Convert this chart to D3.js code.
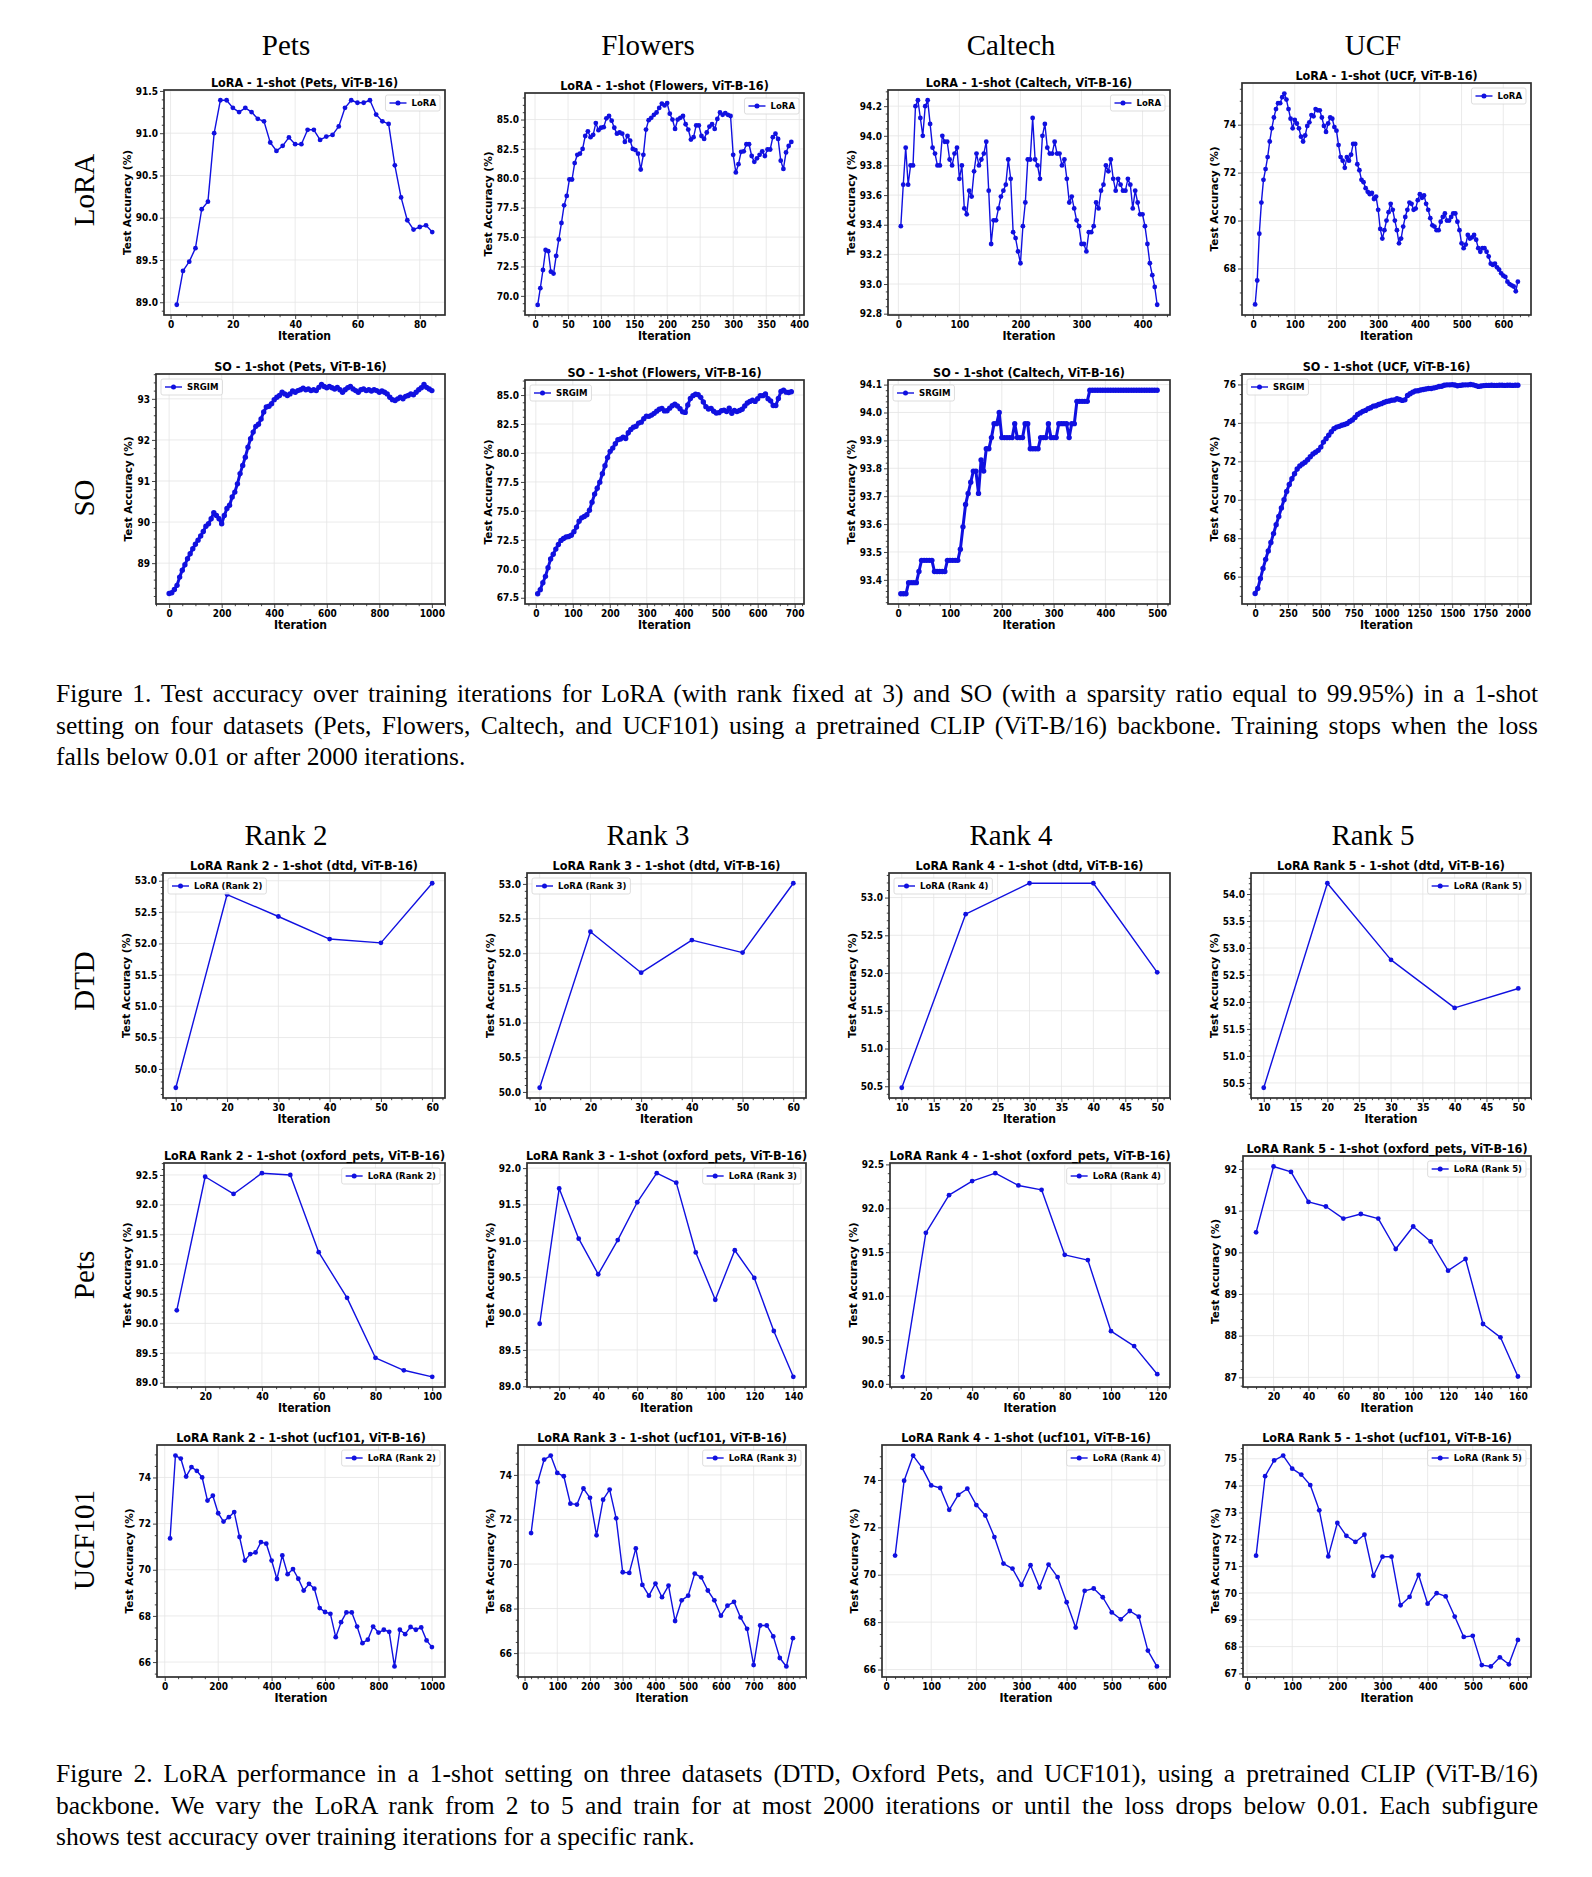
<!DOCTYPE html>
<html>
<head>
<meta charset="utf-8">
<script src="https://cdn.jsdelivr.net/npm/d3@7/dist/d3.min.js"></script>
<style>
  body { margin: 0; background: #fff; }
</style>
</head>
<body>
<svg id="fig" width="1592" height="1877"></svg>
<script>
// ---------- Figure 1 data (LoRA row) ----------
const petsLoraIter = d3.range(2, 85, 2);
const petsLoraAcc = [
    88.97, 89.37, 89.48, 89.64, 90.10, 90.19, 91.00, 91.39, 91.39, 91.30,
    91.25, 91.30, 91.25, 91.17, 91.14, 90.89, 90.79, 90.85, 90.95, 90.87,
    90.87, 91.04, 91.04, 90.92, 90.96, 90.98, 91.08, 91.30, 91.39, 91.36,
    91.36, 91.39, 91.22, 91.14, 91.11, 90.62, 90.24, 89.97, 89.86, 89.89,
    89.91, 89.83];

const flowersLoraIter = d3.range(4, 389, 4);
const flowersLoraAcc = [
    69.23, 70.65, 72.2, 73.9, 73.8, 72.06, 71.9, 73.4, 74.8, 76.2,
    77.7, 78.5, 79.9, 79.9, 81.3, 82.0, 82.1, 82.5, 83.6, 84.0,
    83.5, 83.7, 84.7, 84.1, 84.3, 84.35, 85.1, 85.3, 84.9, 84.3,
    83.8, 83.9, 83.8, 83.1, 83.6, 83.2, 82.5, 82.4, 82.1, 80.75,
    82.0, 84.15, 84.95, 85.15, 85.4, 85.6, 85.99, 86.36, 86.2, 86.4,
    85.5, 85.0, 84.2, 85.0, 85.15, 85.3, 84.6, 84.15, 83.3, 83.5,
    84.5, 84.5, 83.6, 83.35, 83.9, 84.4, 84.6, 84.2, 85.05, 85.6,
    85.4, 85.55, 85.4, 85.3, 82.0, 80.5, 81.2, 82.25, 82.3, 82.9,
    82.9, 81.9, 81.4, 81.7, 82.0, 82.3, 81.9, 82.45, 82.45, 83.5,
    83.8, 83.35, 81.5, 80.8, 82.2, 82.75, 83.1];

const caltechLoraIter = d3.range(4, 425, 4);
const caltechLoraAcc = [
    93.39, 93.67, 93.92, 93.67, 93.80, 93.80, 94.20, 94.24, 94.12, 94.00,
    94.20, 94.24, 94.08, 93.92, 93.88, 93.80, 93.80, 94.00, 93.96, 93.96,
    93.84, 93.80, 93.88, 93.92, 93.71, 93.80, 93.51, 93.47, 93.63, 93.59,
    93.76, 93.88, 93.80, 93.84, 93.88, 93.96, 93.63, 93.27, 93.43, 93.43,
    93.51, 93.59, 93.63, 93.67, 93.84, 93.71, 93.35, 93.31, 93.22, 93.14,
    93.39, 93.55, 93.84, 93.84, 94.12, 93.84, 93.80, 93.71, 94.00, 94.08,
    93.92, 93.88, 93.88, 93.96, 93.88, 93.88, 93.80, 93.84, 93.71, 93.55,
    93.59, 93.51, 93.43, 93.39, 93.27, 93.27, 93.22, 93.35, 93.35, 93.39,
    93.55, 93.51, 93.63, 93.67, 93.80, 93.76, 93.84, 93.71, 93.63, 93.71,
    93.67, 93.63, 93.63, 93.71, 93.67, 93.51, 93.63, 93.55, 93.47, 93.47,
    93.39, 93.27, 93.14, 93.06, 92.98, 92.86];

const ucfLoraIter = d3.range(5, 636, 5);
const ucfLoraAcc = [
    66.5, 67.5, 69.45, 70.75, 71.7, 72.15, 72.65, 73.3, 73.85, 74.3,
    74.65, 74.9, 74.9, 75.15, 75.3, 75.05, 74.65, 74.25, 73.85, 74.2,
    74.05, 73.85, 73.5, 73.3, 73.55, 73.95, 74.1, 74.4, 74.35, 74.65,
    74.6, 74.6, 74.3, 73.95, 73.7, 74.05, 74.3, 74.25, 73.9, 73.75,
    73.15, 72.65, 72.5, 72.2, 72.65, 72.5, 72.75, 73.2, 73.2, 72.35,
    72.1, 71.7, 71.6, 71.35, 71.2, 71.1, 71.15, 70.9, 71.0, 70.45,
    69.65, 69.25, 69.6, 70.0, 70.35, 70.7, 70.45, 70.0, 69.6, 69.05,
    69.25, 69.75, 70.15, 70.45, 70.75, 70.7, 70.45, 70.5, 70.85, 71.1,
    70.95, 71.05, 70.7, 70.45, 70.1, 69.8, 69.75, 69.6, 69.6, 69.95,
    70.15, 70.3, 70.0, 70.0, 70.15, 70.3, 70.3, 69.95, 69.6, 69.05,
    68.85, 69.0, 69.4, 69.25, 69.3, 69.4, 69.2, 68.85, 68.7, 68.85,
    68.85, 68.7, 68.5, 68.2, 68.15, 68.2, 68.05, 67.95, 67.8, 67.7,
    67.65, 67.45, 67.35, 67.3, 67.25, 67.05, 67.45];

// ---------- Figure 1 data (SO row) ----------
const soPetsIter = d3.range(0, 1001, 10);
const soPetsAcc = [
    88.26, 88.28, 88.36, 88.46, 88.66, 88.83, 88.96, 89.11, 89.23, 89.35,
    89.46, 89.56, 89.66, 89.77, 89.90, 89.96, 90.08, 90.23, 90.16, 90.08,
    89.96, 90.16, 90.33, 90.41, 90.61, 90.73, 90.93, 91.18, 91.38, 91.58,
    91.82, 92.03, 92.19, 92.33, 92.38, 92.51, 92.68, 92.80, 92.82, 92.88,
    92.98, 93.04, 93.08, 93.16, 93.12, 93.08, 93.12, 93.19, 93.16, 93.20,
    93.22, 93.26, 93.22, 93.24, 93.20, 93.22, 93.20, 93.28, 93.35, 93.30,
    93.27, 93.30, 93.27, 93.24, 93.28, 93.22, 93.16, 93.22, 93.27, 93.30,
    93.24, 93.20, 93.16, 93.22, 93.24, 93.20, 93.22, 93.19, 93.22, 93.20,
    93.16, 93.19, 93.16, 93.12, 93.04, 92.98, 92.96, 93.00, 93.04, 93.00,
    93.06, 93.08, 93.12, 93.10, 93.16, 93.22, 93.27, 93.35, 93.28, 93.24,
    93.20];

const soFlowersIter = d3.range(5, 692, 7);
const soFlowersAcc = [
    67.84, 68.2, 68.8, 69.35, 70.1, 70.84, 71.25, 71.7, 72.1, 72.45,
    72.62, 72.75, 72.79, 72.9, 73.2, 73.6, 74.1, 74.4, 74.52, 74.67,
    75.05, 75.75, 76.45, 76.95, 77.48, 78.2, 78.9, 79.6, 80.14, 80.42,
    80.80, 81.14, 81.20, 81.37, 81.25, 81.75, 82.03, 82.23, 82.3, 82.58,
    82.66, 82.95, 83.18, 83.16, 83.27, 83.42, 83.61, 83.78, 83.85, 83.63,
    83.64, 83.87, 84.07, 84.22, 84.05, 83.82, 83.55, 83.5, 84.15, 84.7,
    84.95, 85.07, 85.02, 84.8, 84.4, 84.0, 83.8, 83.85, 83.6, 83.45,
    83.48, 83.64, 83.7, 83.57, 83.86, 83.43, 83.66, 83.57, 83.66, 83.77,
    84.05, 84.31, 84.45, 84.55, 84.45, 84.68, 84.95, 84.95, 85.1, 84.68,
    84.5, 84.1, 84.1, 84.7, 85.3, 85.42, 85.25, 85.22, 85.28];

const soCaltechIter = d3.range(5, 501, 5);
const soCaltechAcc = [
    93.35, 93.35, 93.35, 93.39, 93.39, 93.39, 93.39, 93.43, 93.47, 93.47,
    93.47, 93.47, 93.47, 93.43, 93.43, 93.43, 93.43, 93.43, 93.47, 93.47,
    93.47, 93.47, 93.47, 93.51, 93.59, 93.67, 93.71, 93.75, 93.79, 93.79,
    93.71, 93.83, 93.79, 93.87, 93.87, 93.91, 93.96, 93.96, 94.00, 93.91,
    93.91, 93.91, 93.91, 93.91, 93.96, 93.91, 93.91, 93.91, 93.96, 93.96,
    93.87, 93.87, 93.87, 93.87, 93.91, 93.91, 93.91, 93.96, 93.91, 93.91,
    93.91, 93.96, 93.96, 93.96, 93.96, 93.91, 93.96, 93.96, 94.04, 94.04,
    94.04, 94.04, 94.04, 94.08, 94.08, 94.08, 94.08, 94.08, 94.08, 94.08,
    94.08, 94.08, 94.08, 94.08, 94.08, 94.08, 94.08, 94.08, 94.08, 94.08,
    94.08, 94.08, 94.08, 94.08, 94.08, 94.08, 94.08, 94.08, 94.08, 94.08];

const soUcfIter = d3.range(0, 2001, 20);
const soUcfAcc = [
    65.12, 65.38, 65.9, 66.42, 66.9, 67.34, 67.78, 68.24, 68.7, 69.13,
    69.57, 70.0, 70.43, 70.8, 71.09, 71.35, 71.6, 71.76, 71.86, 71.95,
    72.08, 72.24, 72.38, 72.47, 72.57, 72.74, 73.0, 73.18, 73.36, 73.54,
    73.7, 73.78, 73.82, 73.88, 73.92, 73.97, 74.07, 74.15, 74.28, 74.44,
    74.52, 74.6, 74.65, 74.74, 74.79, 74.87, 74.89, 74.96, 75.0, 75.06,
    75.11, 75.14, 75.18, 75.19, 75.26, 75.22, 75.17, 75.2, 75.43, 75.52,
    75.6, 75.66, 75.67, 75.71, 75.74, 75.76, 75.79, 75.79, 75.82, 75.85,
    75.89, 75.91, 75.96, 75.98, 75.98, 75.99, 75.97, 75.93, 75.95, 75.97,
    75.98, 75.98, 76.0, 75.98, 75.94, 75.9, 75.92, 75.94, 75.95, 75.95,
    75.96, 75.95, 75.95, 75.96, 75.96, 75.95, 75.96, 75.96, 75.95, 75.96,
    75.96];

// ---------- Figure 2 data ----------
const dtdIter6 = [10, 20, 30, 40, 50, 60];
const dtdIter5 = [10, 20, 30, 40, 50];
const dtdR2 = [49.70, 52.78, 52.43, 52.07, 52.01, 52.96];
const dtdR3 = [50.06, 52.31, 51.72, 52.19, 52.01, 53.01];
const dtdR4 = [50.48, 52.78, 53.19, 53.19, 52.01];
const dtdR5 = [50.41, 54.20, 52.78, 51.89, 52.25];

const petsR2Iter = [10, 20, 30, 40, 50, 60, 70, 80, 90, 100];
const petsR2 = [90.22, 92.47, 92.18, 92.53, 92.50, 91.20, 90.43, 89.42, 89.21, 89.10];
const petsR3Iter = [10, 20, 30, 40, 50, 60, 70, 80, 90, 100, 110, 120, 130, 140];
const petsR3 = [89.86, 91.72, 91.03, 90.54, 91.01, 91.53, 91.93, 91.80, 90.84, 90.19, 90.87, 90.49, 89.76, 89.13];
const petsR4Iter = [10, 20, 30, 40, 50, 60, 70, 80, 90, 100, 110, 120];
const petsR4 = [90.08, 91.72, 92.15, 92.31, 92.40, 92.26, 92.21, 91.47, 91.41, 90.60, 90.43, 90.11];
const petsR5Iter = [10, 20, 30, 40, 50, 60, 70, 80, 90, 100, 110, 120, 130, 140, 150, 160];
const petsR5 = [90.48, 92.06, 91.93, 91.21, 91.10, 90.81, 90.92, 90.81, 90.08, 90.62, 90.26, 89.56, 89.84, 88.28, 87.96, 87.02];

const ucfR2Iter = d3.range(20, 1001, 20);
const ucfR2 = [
    71.36, 74.95, 74.82, 74.04, 74.45, 74.29, 74.00, 73.00, 73.21, 72.45,
    72.09, 72.28, 72.50, 71.42, 70.40, 70.68, 70.75, 71.20, 71.13, 70.40,
    69.60, 70.62, 69.81, 70.03, 69.61, 69.10, 69.39, 69.18, 68.34, 68.17,
    68.09, 67.08, 67.73, 68.15, 68.15, 67.54, 66.82, 66.97, 67.54, 67.28,
    67.40, 67.31, 65.81, 67.40, 67.21, 67.52, 67.40, 67.50, 66.94, 66.65];
const ucfR3Iter = d3.range(20, 821, 20);
const ucfR3 = [
    71.39, 73.67, 74.69, 74.87, 74.09, 73.94, 72.71, 72.67, 73.39, 72.97,
    71.29, 72.89, 73.34, 72.05, 69.63, 69.60, 70.70, 69.06, 68.58, 69.12,
    68.51, 69.03, 67.44, 68.37, 68.58, 69.57, 69.40, 68.81, 68.37, 67.68,
    68.13, 68.30, 67.60, 67.09, 65.46, 67.24, 67.24, 66.75, 65.78, 65.40,
    66.67];
const ucfR45Iter = d3.range(20, 601, 20);
const ucfR4 = [
    70.81, 73.97, 75.03, 74.51, 73.77, 73.66, 72.74, 73.37, 73.63, 72.94,
    72.50, 71.59, 70.47, 70.26, 69.57, 70.40, 69.46, 70.43, 69.90, 68.84,
    67.77, 69.32, 69.42, 69.05, 68.41, 68.12, 68.47, 68.23, 66.80, 66.13];
const ucfR5 = [
    71.39, 74.35, 74.94, 75.12, 74.63, 74.41, 74.02, 73.08, 71.36, 72.61,
    72.13, 71.90, 72.17, 70.64, 71.35, 71.35, 69.54, 69.85, 70.67, 69.60,
    69.99, 69.87, 69.12, 68.36, 68.40, 67.31, 67.26, 67.60, 67.34, 68.25];

// ---------- tick values ----------
const xt0_80 = [0, 20, 40, 60, 80];
const xt0_400by50 = [0, 50, 100, 150, 200, 250, 300, 350, 400];
const xt0_400 = [0, 100, 200, 300, 400];
const xt0_600 = [0, 100, 200, 300, 400, 500, 600];
const xt0_1000 = [0, 200, 400, 600, 800, 1000];
const xt0_700 = [0, 100, 200, 300, 400, 500, 600, 700];
const xt0_500 = [0, 100, 200, 300, 400, 500];
const xt0_2000 = [0, 250, 500, 750, 1000, 1250, 1500, 1750, 2000];
const xt10_60 = [10, 20, 30, 40, 50, 60];
const xt10_50 = [10, 15, 20, 25, 30, 35, 40, 45, 50];
const xt20_100 = [20, 40, 60, 80, 100];
const xt20_140 = [20, 40, 60, 80, 100, 120, 140];
const xt20_120 = [20, 40, 60, 80, 100, 120];
const xt20_160 = [20, 40, 60, 80, 100, 120, 140, 160];
const xt0_800 = [0, 100, 200, 300, 400, 500, 600, 700, 800];

const yPetsLora = [89.0, 89.5, 90.0, 90.5, 91.0, 91.5];
const yFlowers = [67.5, 70.0, 72.5, 75.0, 77.5, 80.0, 82.5, 85.0];
const yCaltechLora = [92.8, 93.0, 93.2, 93.4, 93.6, 93.8, 94.0, 94.2];
const yUcfEven = [64, 66, 68, 70, 72, 74, 76];
const ySoPets = [88, 89, 90, 91, 92, 93];
const ySoCaltech = [93.3, 93.4, 93.5, 93.6, 93.7, 93.8, 93.9, 94.0, 94.1];
const yHalf = [49.5, 50.0, 50.5, 51.0, 51.5, 52.0, 52.5, 53.0, 53.5, 54.0];
const yPetsHalf = [89.0, 89.5, 90.0, 90.5, 91.0, 91.5, 92.0, 92.5];
const yPetsInt = [87, 88, 89, 90, 91, 92];
const yUcfInt = [67, 68, 69, 70, 71, 72, 73, 74, 75];

// ---------- text ----------
const fig1Cols = ['Pets', 'Flowers', 'Caltech', 'UCF'];
const fig1Rows = ['LoRA', 'SO'];
const fig2Cols = ['Rank 2', 'Rank 3', 'Rank 4', 'Rank 5'];
const fig2Rows = ['DTD', 'Pets', 'UCF101'];
const caption1 = [
    'Figure 1. Test accuracy over training iterations for LoRA (with rank fixed at 3) and SO (with a sparsity ratio equal to 99.95%) in a 1-shot',
    'setting on four datasets (Pets, Flowers, Caltech, and UCF101) using a pretrained CLIP (ViT-B/16) backbone. Training stops when the loss',
    'falls below 0.01 or after 2000 iterations.'];
const caption2 = [
    'Figure 2. LoRA performance in a 1-shot setting on three datasets (DTD, Oxford Pets, and UCF101), using a pretrained CLIP (ViT-B/16)',
    'backbone. We vary the LoRA rank from 2 to 5 and train for at most 2000 iterations or until the loss drops below 0.01. Each subfigure',
    'shows test accuracy over training iterations for a specific rank.'];

// ---------- panels ----------
const panels = [
    {title: 'LoRA - 1-shot (Pets, ViT-B-16)', it: petsLoraIter, acc: petsLoraAcc, box: [164, 90, 445, 315], xt: xt0_80, yt: yPetsLora, yf: '.1f', leg: 'LoRA', loc: 'ur'},
    {title: 'LoRA - 1-shot (Flowers, ViT-B-16)', it: flowersLoraIter, acc: flowersLoraAcc, box: [525, 93, 804, 315], xt: xt0_400by50, yt: yFlowers, yf: '.1f', leg: 'LoRA', loc: 'ur'},
    {title: 'LoRA - 1-shot (Caltech, ViT-B-16)', it: caltechLoraIter, acc: caltechLoraAcc, box: [888, 90, 1170, 315], xt: xt0_400, yt: yCaltechLora, yf: '.1f', leg: 'LoRA', loc: 'ur'},
    {title: 'LoRA - 1-shot (UCF, ViT-B-16)', it: ucfLoraIter, acc: ucfLoraAcc, box: [1242, 83, 1531, 315], xt: xt0_600, yt: yUcfEven, yf: 'd', leg: 'LoRA', loc: 'ur'},
    {title: 'SO - 1-shot (Pets, ViT-B-16)', it: soPetsIter, acc: soPetsAcc, box: [156, 374, 445, 604], xt: xt0_1000, yt: ySoPets, yf: 'd', leg: 'SRGIM', loc: 'ul', dense: true},
    {title: 'SO - 1-shot (Flowers, ViT-B-16)', it: soFlowersIter, acc: soFlowersAcc, box: [525, 380, 804, 604], xt: xt0_700, yt: yFlowers, yf: '.1f', leg: 'SRGIM', loc: 'ul', dense: true},
    {title: 'SO - 1-shot (Caltech, ViT-B-16)', it: soCaltechIter, acc: soCaltechAcc, box: [888, 380, 1170, 604], xt: xt0_500, yt: ySoCaltech, yf: '.1f', leg: 'SRGIM', loc: 'ul', dense: true},
    {title: 'SO - 1-shot (UCF, ViT-B-16)', it: soUcfIter, acc: soUcfAcc, box: [1242, 374, 1531, 604], xt: xt0_2000, yt: yUcfEven, yf: 'd', leg: 'SRGIM', loc: 'ul', dense: true},

    {title: 'LoRA Rank 2 - 1-shot (dtd, ViT-B-16)', it: dtdIter6, acc: dtdR2, box: [163, 873, 445, 1098], xt: xt10_60, yt: yHalf, yf: '.1f', leg: 'LoRA (Rank 2)', loc: 'ul'},
    {title: 'LoRA Rank 3 - 1-shot (dtd, ViT-B-16)', it: dtdIter6, acc: dtdR3, box: [527, 873, 806, 1098], xt: xt10_60, yt: yHalf, yf: '.1f', leg: 'LoRA (Rank 3)', loc: 'ul'},
    {title: 'LoRA Rank 4 - 1-shot (dtd, ViT-B-16)', it: dtdIter5, acc: dtdR4, box: [889, 873, 1170, 1098], xt: xt10_50, yt: yHalf, yf: '.1f', leg: 'LoRA (Rank 4)', loc: 'ul'},
    {title: 'LoRA Rank 5 - 1-shot (dtd, ViT-B-16)', it: dtdIter5, acc: dtdR5, box: [1251, 873, 1531, 1098], xt: xt10_50, yt: yHalf, yf: '.1f', leg: 'LoRA (Rank 5)', loc: 'ur'},

    {title: 'LoRA Rank 2 - 1-shot (oxford_pets, ViT-B-16)', it: petsR2Iter, acc: petsR2, box: [164, 1163, 445, 1387], xt: xt20_100, yt: yPetsHalf, yf: '.1f', leg: 'LoRA (Rank 2)', loc: 'ur'},
    {title: 'LoRA Rank 3 - 1-shot (oxford_pets, ViT-B-16)', it: petsR3Iter, acc: petsR3, box: [527, 1163, 806, 1387], xt: xt20_140, yt: yPetsHalf, yf: '.1f', leg: 'LoRA (Rank 3)', loc: 'ur'},
    {title: 'LoRA Rank 4 - 1-shot (oxford_pets, ViT-B-16)', it: petsR4Iter, acc: petsR4, box: [890, 1163, 1170, 1387], xt: xt20_120, yt: yPetsHalf, yf: '.1f', leg: 'LoRA (Rank 4)', loc: 'ur'},
    {title: 'LoRA Rank 5 - 1-shot (oxford_pets, ViT-B-16)', it: petsR5Iter, acc: petsR5, box: [1243, 1156, 1531, 1387], xt: xt20_160, yt: yPetsInt, yf: 'd', leg: 'LoRA (Rank 5)', loc: 'ur'},

    {title: 'LoRA Rank 2 - 1-shot (ucf101, ViT-B-16)', it: ucfR2Iter, acc: ucfR2, box: [157, 1445, 445, 1677], xt: xt0_1000, yt: yUcfEven, yf: 'd', leg: 'LoRA (Rank 2)', loc: 'ur'},
    {title: 'LoRA Rank 3 - 1-shot (ucf101, ViT-B-16)', it: ucfR3Iter, acc: ucfR3, box: [518, 1445, 806, 1677], xt: xt0_800, yt: yUcfEven, yf: 'd', leg: 'LoRA (Rank 3)', loc: 'ur'},
    {title: 'LoRA Rank 4 - 1-shot (ucf101, ViT-B-16)', it: ucfR45Iter, acc: ucfR4, box: [882, 1445, 1170, 1677], xt: xt0_600, yt: yUcfEven, yf: 'd', leg: 'LoRA (Rank 4)', loc: 'ur'},
    {title: 'LoRA Rank 5 - 1-shot (ucf101, ViT-B-16)', it: ucfR45Iter, acc: ucfR5, box: [1243, 1445, 1531, 1677], xt: xt0_600, yt: yUcfInt, yf: 'd', leg: 'LoRA (Rank 5)', loc: 'ur'}
];

// ---------- drawing ----------
const svg = d3.select('#fig');
const BLUE = '#1010e0';
const AXIS = '#2e2e2e';
const SANS = "'DejaVu Sans Condensed', 'DejaVu Sans', sans-serif";
const SANS_W = "'DejaVu Sans', sans-serif";
const SERIF = "'Liberation Serif', 'Times New Roman', Times, serif";

// matplotlib style minor ticks (AutoMinorLocator)
function minorOf(major, dom) {
    const step = major[1] - major[0];
    const e = Math.floor(Math.log10(step));
    const mant = +(step / Math.pow(10, e)).toFixed(3);
    const nd = (mant === 1 || mant === 5 || mant === 10) ? 5 : 4;
    const ms = step / nd;
    const out = [];
    const k0 = Math.ceil((dom[0] - major[0]) / ms - 1e-9);
    for (let k = k0; major[0] + k * ms <= dom[1] + 1e-9; k++) {
        if (((k % nd) + nd) % nd !== 0) out.push(major[0] + k * ms);
    }
    return out;
}

function styleAxis(sel, size) {
    sel.attr('font-family', SANS).attr('font-size', size).attr('font-weight', 'bold')
        .attr('font-stretch', 'condensed');
    sel.select('.domain').remove();
    sel.selectAll('.tick line').attr('stroke', AXIS).attr('stroke-width', 0.9);
    sel.selectAll('.tick text').attr('fill', '#000');
}

function drawPanel(p) {
    const [l, t, r, b] = p.box;
    const xe = d3.extent(p.it), ye = d3.extent(p.acc);
    const xm = (xe[1] - xe[0]) * 0.05, ym = (ye[1] - ye[0]) * 0.05;
    const x = d3.scaleLinear().domain([xe[0] - xm, xe[1] + xm]).range([l, r]);
    const y = d3.scaleLinear().domain([ye[0] - ym, ye[1] + ym]).range([b, t]);
    const xT = p.xt.filter(v => v >= x.domain()[0] && v <= x.domain()[1]);
    const yT = p.yt.filter(v => v >= y.domain()[0] && v <= y.domain()[1]);
    const g = svg.append('g');

    // grid
    g.append('g').selectAll('line').data(xT).join('line')
        .attr('x1', d => x(d)).attr('x2', d => x(d)).attr('y1', t).attr('y2', b)
        .attr('stroke', '#e4e4e4').attr('stroke-width', 0.8);
    g.append('g').selectAll('line').data(yT).join('line')
        .attr('x1', l).attr('x2', r).attr('y1', d => y(d)).attr('y2', d => y(d))
        .attr('stroke', '#e4e4e4').attr('stroke-width', 0.8);

    // axes
    const gx = g.append('g').attr('transform', `translate(0,${b})`)
        .call(d3.axisBottom(x).tickValues(xT).tickFormat(d3.format('d')).tickSize(4).tickPadding(2).tickSizeOuter(0));
    styleAxis(gx, 10);
    const gxm = g.append('g').attr('transform', `translate(0,${b})`)
        .call(d3.axisBottom(x).tickValues(minorOf(xT, x.domain())).tickFormat('').tickSize(2.2).tickSizeOuter(0));
    styleAxis(gxm, 10);
    const gy = g.append('g').attr('transform', `translate(${l},0)`)
        .call(d3.axisLeft(y).tickValues(yT).tickFormat(d3.format(p.yf)).tickSize(4).tickPadding(2).tickSizeOuter(0));
    styleAxis(gy, 10);
    const gym = g.append('g').attr('transform', `translate(${l},0)`)
        .call(d3.axisLeft(y).tickValues(minorOf(yT, y.domain())).tickFormat('').tickSize(2.2).tickSizeOuter(0));
    styleAxis(gym, 10);

    // series
    const pts = p.it.map((v, i) => [v, p.acc[i]]);
    g.append('path')
        .attr('d', d3.line().x(d => x(d[0])).y(d => y(d[1]))(pts))
        .attr('fill', 'none').attr('stroke', BLUE).attr('stroke-width', p.dense ? 3 : 1.4)
        .attr('stroke-linejoin', 'round');
    g.append('g').selectAll('circle').data(pts).join('circle')
        .attr('cx', d => x(d[0])).attr('cy', d => y(d[1])).attr('r', p.dense ? 2.7 : 2.4)
        .attr('fill', BLUE);

    // frame
    g.append('rect').attr('x', l).attr('y', t).attr('width', r - l).attr('height', b - t)
        .attr('fill', 'none').attr('stroke', AXIS).attr('stroke-width', 1.7);

    // title + axis labels
    g.append('text').attr('x', (l + r) / 2).attr('y', t - 3).attr('text-anchor', 'middle')
        .attr('font-family', SANS).attr('font-stretch', 'condensed').attr('font-weight', 'bold')
        .attr('font-size', 12.5).text(p.title);
    g.append('text').attr('x', (l + r) / 2).attr('y', b + 25).attr('text-anchor', 'middle')
        .attr('font-family', SANS).attr('font-stretch', 'condensed').attr('font-weight', 'bold')
        .attr('font-size', 12).text('Iteration');
    const bb = gy.node().getBBox();
    const lx = l + bb.x - 5;
    g.append('text').attr('transform', `translate(${lx},${(t + b) / 2}) rotate(-90)`)
        .attr('text-anchor', 'middle').attr('font-family', SANS_W).attr('font-weight', 'bold')
        .attr('font-size', 10.5).text('Test Accuracy (%)');

    // legend
    const lg = g.append('g');
    const txt = lg.append('text').attr('font-family', SANS).attr('font-stretch', 'condensed')
        .attr('font-weight', 'bold').attr('font-size', 9.5).text(p.leg);
    const tw = txt.node().getComputedTextLength();
    const pad = 4, hl = 17, gap = 5, h = 16;
    const w = pad + hl + gap + tw + pad;
    const x0 = p.loc === 'ur' ? r - 5 - w : l + 5;
    const y0 = t + 5;
    lg.insert('rect', 'text').attr('x', x0).attr('y', y0).attr('width', w).attr('height', h)
        .attr('rx', 2).attr('fill', '#fff').attr('fill-opacity', 0.85)
        .attr('stroke', '#d4d4d4').attr('stroke-width', 0.8);
    lg.append('line').attr('x1', x0 + pad).attr('x2', x0 + pad + hl)
        .attr('y1', y0 + h / 2).attr('y2', y0 + h / 2).attr('stroke', BLUE).attr('stroke-width', 1.4);
    lg.append('circle').attr('cx', x0 + pad + hl / 2).attr('cy', y0 + h / 2).attr('r', 2.5).attr('fill', BLUE);
    txt.attr('x', x0 + pad + hl + gap).attr('y', y0 + h / 2).attr('dy', '0.35em');
}

panels.forEach(drawPanel);

// column headers and row labels
const colX = [286, 648, 1011, 1373];
function header(labels, yBase) {
    labels.forEach((s, i) => svg.append('text').attr('x', colX[i]).attr('y', yBase)
        .attr('text-anchor', 'middle').attr('font-family', SERIF).attr('font-size', 29).text(s));
}
function rowLabels(labels, ys) {
    labels.forEach((s, i) => svg.append('text')
        .attr('transform', `translate(94,${ys[i]}) rotate(-90)`)
        .attr('text-anchor', 'middle').attr('font-family', SERIF).attr('font-size', 29).text(s));
}
header(fig1Cols, 55);
header(fig2Cols, 845);
rowLabels(fig1Rows, [190, 498]);
rowLabels(fig2Rows, [981, 1275, 1540]);

// justified captions
function caption(lines, y0) {
    const left = 56, right = 1538;
    lines.forEach((s, i) => {
        const tx = svg.append('text').attr('x', left).attr('y', y0 + i * 31.7)
            .attr('font-family', SERIF).attr('font-size', 25.5).text(s);
        if (i < lines.length - 1) {
            const wNat = tx.node().getComputedTextLength();
            const n = (s.match(/ /g) || []).length;
            tx.attr('word-spacing', (right - left - wNat) / n);
        }
    });
}
caption(caption1, 702);
caption(caption2, 1782);
</script>
</body>
</html>
